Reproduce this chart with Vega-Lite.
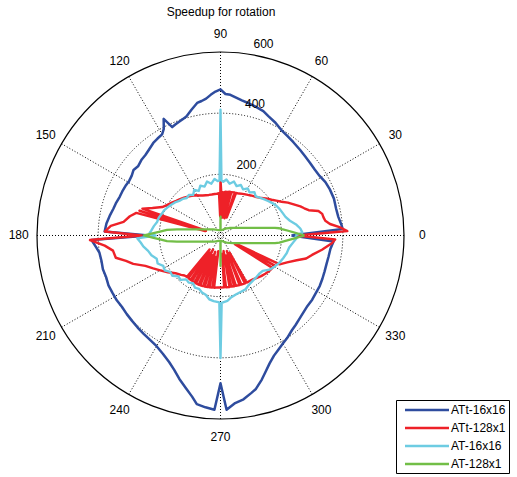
{
"$schema": "https://vega.github.io/schema/vega-lite/v6.json",
"width": 517, "height": 457,
"padding": {"top": 20, "left": 0, "right": 0, "bottom": 0},
"autosize": {"type": "none"},
"title": {"text": "Speedup for rotation", "fontSize": 12, "font": "Liberation Sans", "fontWeight": "normal", "color": "black", "anchor": "middle", "dx": -37.5, "offset": 1},
"config": {"view": {"stroke": null}, "font": "Liberation Sans"},
"datasets": {
"rings": [{"r": 200}, {"r": 400}, {"r": 600}],
"spokes": [{"a": 30}, {"a": 60}, {"a": 90}, {"a": 120}, {"a": 150}, {"a": 180}],
"angles": [{"a": 0}, {"a": 30}, {"a": 60}, {"a": 90}, {"a": 120}, {"a": 150}, {"a": 180}, {"a": 210}, {"a": 240}, {"a": 270}, {"a": 300}, {"a": 330}],
"curves": [
{"s":"ATt-16x16","a":0,"r":232},{"s":"ATt-16x16","a":3,"r":400},{"s":"ATt-16x16","a":5,"r":397},{"s":"ATt-16x16","a":9,"r":390},{"s":"ATt-16x16","a":13,"r":388},{"s":"ATt-16x16","a":18,"r":390},{"s":"ATt-16x16","a":23,"r":388},{"s":"ATt-16x16","a":27,"r":385},{"s":"ATt-16x16","a":31,"r":378},{"s":"ATt-16x16","a":35,"r":376},{"s":"ATt-16x16","a":39,"r":377},{"s":"ATt-16x16","a":43,"r":379},{"s":"ATt-16x16","a":47,"r":382},{"s":"ATt-16x16","a":52,"r":387},{"s":"ATt-16x16","a":56,"r":392},{"s":"ATt-16x16","a":60,"r":398},{"s":"ATt-16x16","a":64,"r":410},{"s":"ATt-16x16","a":68,"r":420},{"s":"ATt-16x16","a":71,"r":430},{"s":"ATt-16x16","a":75,"r":437},{"s":"ATt-16x16","a":78,"r":442},{"s":"ATt-16x16","a":81,"r":447},{"s":"ATt-16x16","a":84,"r":455},{"s":"ATt-16x16","a":86,"r":461},{"s":"ATt-16x16","a":88,"r":463},{"s":"ATt-16x16","a":90,"r":478},{"s":"ATt-16x16","a":92,"r":471},{"s":"ATt-16x16","a":94,"r":461},{"s":"ATt-16x16","a":96,"r":450},{"s":"ATt-16x16","a":98,"r":444},{"s":"ATt-16x16","a":100,"r":440},{"s":"ATt-16x16","a":103,"r":422},{"s":"ATt-16x16","a":106,"r":405},{"s":"ATt-16x16","a":108,"r":400},{"s":"ATt-16x16","a":110,"r":396},{"s":"ATt-16x16","a":112,"r":392},{"s":"ATt-16x16","a":114,"r":388},{"s":"ATt-16x16","a":116,"r":424},{"s":"ATt-16x16","a":118,"r":395},{"s":"ATt-16x16","a":120,"r":382},{"s":"ATt-16x16","a":123,"r":378},{"s":"ATt-16x16","a":126,"r":374},{"s":"ATt-16x16","a":130,"r":365},{"s":"ATt-16x16","a":133,"r":360},{"s":"ATt-16x16","a":136,"r":358},{"s":"ATt-16x16","a":140,"r":352},{"s":"ATt-16x16","a":143,"r":356},{"s":"ATt-16x16","a":146,"r":350},{"s":"ATt-16x16","a":149,"r":348},{"s":"ATt-16x16","a":152,"r":350},{"s":"ATt-16x16","a":156,"r":352},{"s":"ATt-16x16","a":159,"r":353},{"s":"ATt-16x16","a":163,"r":358},{"s":"ATt-16x16","a":166,"r":361},{"s":"ATt-16x16","a":170,"r":368},{"s":"ATt-16x16","a":174,"r":375},{"s":"ATt-16x16","a":178,"r":379},{"s":"ATt-16x16","a":180,"r":235},{"s":"ATt-16x16","a":182,"r":422},{"s":"ATt-16x16","a":185,"r":410},{"s":"ATt-16x16","a":188,"r":400},{"s":"ATt-16x16","a":192,"r":398},{"s":"ATt-16x16","a":196,"r":400},{"s":"ATt-16x16","a":200,"r":398},{"s":"ATt-16x16","a":204,"r":401},{"s":"ATt-16x16","a":208,"r":400},{"s":"ATt-16x16","a":212,"r":400},{"s":"ATt-16x16","a":216,"r":398},{"s":"ATt-16x16","a":220,"r":400},{"s":"ATt-16x16","a":224,"r":402},{"s":"ATt-16x16","a":228,"r":405},{"s":"ATt-16x16","a":232,"r":408},{"s":"ATt-16x16","a":236,"r":412},{"s":"ATt-16x16","a":240,"r":418},{"s":"ATt-16x16","a":244,"r":430},{"s":"ATt-16x16","a":248,"r":447},{"s":"ATt-16x16","a":251,"r":465},{"s":"ATt-16x16","a":254,"r":488},{"s":"ATt-16x16","a":257,"r":510},{"s":"ATt-16x16","a":260,"r":535},{"s":"ATt-16x16","a":262,"r":557},{"s":"ATt-16x16","a":265,"r":564},{"s":"ATt-16x16","a":268,"r":570},{"s":"ATt-16x16","a":270,"r":483},{"s":"ATt-16x16","a":272,"r":570},{"s":"ATt-16x16","a":275,"r":550},{"s":"ATt-16x16","a":278,"r":541},{"s":"ATt-16x16","a":281,"r":525},{"s":"ATt-16x16","a":283,"r":515},{"s":"ATt-16x16","a":286,"r":490},{"s":"ATt-16x16","a":288,"r":472},{"s":"ATt-16x16","a":291,"r":448},{"s":"ATt-16x16","a":294,"r":430},{"s":"ATt-16x16","a":297,"r":418},{"s":"ATt-16x16","a":300,"r":408},{"s":"ATt-16x16","a":303,"r":400},{"s":"ATt-16x16","a":307,"r":388},{"s":"ATt-16x16","a":310,"r":382},{"s":"ATt-16x16","a":313,"r":376},{"s":"ATt-16x16","a":317,"r":370},{"s":"ATt-16x16","a":321,"r":366},{"s":"ATt-16x16","a":325,"r":366},{"s":"ATt-16x16","a":329,"r":364},{"s":"ATt-16x16","a":333,"r":364},{"s":"ATt-16x16","a":337,"r":362},{"s":"ATt-16x16","a":341,"r":360},{"s":"ATt-16x16","a":345,"r":359},{"s":"ATt-16x16","a":349,"r":360},{"s":"ATt-16x16","a":353,"r":362},{"s":"ATt-16x16","a":357,"r":370},{"s":"ATt-16x16","a":360,"r":232},
{"s":"ATt-128x1","a":0,"r":250},{"s":"ATt-128x1","a":2,"r":415},{"s":"ATt-128x1","a":4,"r":390},{"s":"ATt-128x1","a":6,"r":360},{"s":"ATt-128x1","a":8,"r":346},{"s":"ATt-128x1","a":10,"r":342},{"s":"ATt-128x1","a":12,"r":340},{"s":"ATt-128x1","a":14,"r":330},{"s":"ATt-128x1","a":16,"r":300},{"s":"ATt-128x1","a":18,"r":288},{"s":"ATt-128x1","a":20,"r":278},{"s":"ATt-128x1","a":23,"r":260},{"s":"ATt-128x1","a":26,"r":245},{"s":"ATt-128x1","a":29,"r":228},{"s":"ATt-128x1","a":32,"r":215},{"s":"ATt-128x1","a":35,"r":204},{"s":"ATt-128x1","a":38,"r":195},{"s":"ATt-128x1","a":41,"r":186},{"s":"ATt-128x1","a":44,"r":178},{"s":"ATt-128x1","a":47,"r":172},{"s":"ATt-128x1","a":50,"r":168},{"s":"ATt-128x1","a":53,"r":164},{"s":"ATt-128x1","a":56,"r":160},{"s":"ATt-128x1","a":59,"r":157},{"s":"ATt-128x1","a":62,"r":154},{"s":"ATt-128x1","a":66,"r":150},{"s":"ATt-128x1","a":70,"r":148},{"s":"ATt-128x1","a":71,"r":62},{"s":"ATt-128x1","a":72,"r":148},{"s":"ATt-128x1","a":76,"r":146},{"s":"ATt-128x1","a":77,"r":58},{"s":"ATt-128x1","a":78,"r":146},{"s":"ATt-128x1","a":81,"r":144},{"s":"ATt-128x1","a":82,"r":60},{"s":"ATt-128x1","a":83,"r":144},{"s":"ATt-128x1","a":85,"r":142},{"s":"ATt-128x1","a":86,"r":58},{"s":"ATt-128x1","a":87,"r":142},{"s":"ATt-128x1","a":89,"r":140},{"s":"ATt-128x1","a":90,"r":183},{"s":"ATt-128x1","a":91,"r":62},{"s":"ATt-128x1","a":92,"r":138},{"s":"ATt-128x1","a":95,"r":137},{"s":"ATt-128x1","a":98,"r":137},{"s":"ATt-128x1","a":102,"r":137},{"s":"ATt-128x1","a":106,"r":138},{"s":"ATt-128x1","a":110,"r":140},{"s":"ATt-128x1","a":114,"r":143},{"s":"ATt-128x1","a":118,"r":148},{"s":"ATt-128x1","a":122,"r":155},{"s":"ATt-128x1","a":126,"r":160},{"s":"ATt-128x1","a":130,"r":166},{"s":"ATt-128x1","a":134,"r":172},{"s":"ATt-128x1","a":138,"r":178},{"s":"ATt-128x1","a":142,"r":184},{"s":"ATt-128x1","a":146,"r":192},{"s":"ATt-128x1","a":150,"r":200},{"s":"ATt-128x1","a":154,"r":212},{"s":"ATt-128x1","a":158,"r":240},{"s":"ATt-128x1","a":161,"r":270},{"s":"ATt-128x1","a":162,"r":50},{"s":"ATt-128x1","a":163,"r":277},{"s":"ATt-128x1","a":164,"r":52},{"s":"ATt-128x1","a":165,"r":285},{"s":"ATt-128x1","a":168,"r":303},{"s":"ATt-128x1","a":172,"r":320},{"s":"ATt-128x1","a":175,"r":360},{"s":"ATt-128x1","a":178,"r":378},{"s":"ATt-128x1","a":180,"r":258},{"s":"ATt-128x1","a":182,"r":427},{"s":"ATt-128x1","a":185,"r":380},{"s":"ATt-128x1","a":188,"r":355},{"s":"ATt-128x1","a":192,"r":350},{"s":"ATt-128x1","a":195,"r":320},{"s":"ATt-128x1","a":198,"r":300},{"s":"ATt-128x1","a":202,"r":265},{"s":"ATt-128x1","a":206,"r":245},{"s":"ATt-128x1","a":210,"r":228},{"s":"ATt-128x1","a":215,"r":210},{"s":"ATt-128x1","a":220,"r":192},{"s":"ATt-128x1","a":225,"r":182},{"s":"ATt-128x1","a":228,"r":176},{"s":"ATt-128x1","a":231,"r":174},{"s":"ATt-128x1","a":232,"r":58},{"s":"ATt-128x1","a":233,"r":174},{"s":"ATt-128x1","a":236,"r":175},{"s":"ATt-128x1","a":237,"r":66},{"s":"ATt-128x1","a":238,"r":175},{"s":"ATt-128x1","a":241,"r":176},{"s":"ATt-128x1","a":242,"r":52},{"s":"ATt-128x1","a":243,"r":176},{"s":"ATt-128x1","a":246,"r":176},{"s":"ATt-128x1","a":247,"r":70},{"s":"ATt-128x1","a":248,"r":176},{"s":"ATt-128x1","a":251,"r":175},{"s":"ATt-128x1","a":252,"r":56},{"s":"ATt-128x1","a":253,"r":175},{"s":"ATt-128x1","a":256,"r":174},{"s":"ATt-128x1","a":257,"r":72},{"s":"ATt-128x1","a":258,"r":173},{"s":"ATt-128x1","a":261,"r":172},{"s":"ATt-128x1","a":262,"r":52},{"s":"ATt-128x1","a":263,"r":172},{"s":"ATt-128x1","a":267,"r":170},{"s":"ATt-128x1","a":270,"r":170},{"s":"ATt-128x1","a":274,"r":170},{"s":"ATt-128x1","a":275,"r":60},{"s":"ATt-128x1","a":276,"r":170},{"s":"ATt-128x1","a":280,"r":171},{"s":"ATt-128x1","a":281,"r":52},{"s":"ATt-128x1","a":282,"r":171},{"s":"ATt-128x1","a":285,"r":172},{"s":"ATt-128x1","a":286,"r":68},{"s":"ATt-128x1","a":287,"r":172},{"s":"ATt-128x1","a":291,"r":174},{"s":"ATt-128x1","a":292,"r":55},{"s":"ATt-128x1","a":293,"r":174},{"s":"ATt-128x1","a":297,"r":176},{"s":"ATt-128x1","a":298,"r":64},{"s":"ATt-128x1","a":299,"r":176},{"s":"ATt-128x1","a":303,"r":177},{"s":"ATt-128x1","a":307,"r":179},{"s":"ATt-128x1","a":310,"r":182},{"s":"ATt-128x1","a":315,"r":188},{"s":"ATt-128x1","a":320,"r":193},{"s":"ATt-128x1","a":325,"r":198},{"s":"ATt-128x1","a":328,"r":200},{"s":"ATt-128x1","a":329,"r":55},{"s":"ATt-128x1","a":331,"r":203},{"s":"ATt-128x1","a":332,"r":60},{"s":"ATt-128x1","a":334,"r":215},{"s":"ATt-128x1","a":338,"r":235},{"s":"ATt-128x1","a":342,"r":262},{"s":"ATt-128x1","a":345,"r":290},{"s":"ATt-128x1","a":348,"r":306},{"s":"ATt-128x1","a":352,"r":335},{"s":"ATt-128x1","a":356,"r":365},{"s":"ATt-128x1","a":358,"r":375},{"s":"ATt-128x1","a":360,"r":250},
{"s":"AT-16x16","a":0,"r":245},{"s":"AT-16x16","a":2,"r":268},{"s":"AT-16x16","a":5,"r":262},{"s":"AT-16x16","a":8,"r":251},{"s":"AT-16x16","a":12,"r":232},{"s":"AT-16x16","a":16,"r":221},{"s":"AT-16x16","a":20,"r":216},{"s":"AT-16x16","a":24,"r":212},{"s":"AT-16x16","a":28,"r":207},{"s":"AT-16x16","a":32,"r":200},{"s":"AT-16x16","a":36,"r":192},{"s":"AT-16x16","a":40,"r":185},{"s":"AT-16x16","a":44,"r":178},{"s":"AT-16x16","a":48,"r":172},{"s":"AT-16x16","a":52,"r":180},{"s":"AT-16x16","a":56,"r":170},{"s":"AT-16x16","a":60,"r":178},{"s":"AT-16x16","a":64,"r":168},{"s":"AT-16x16","a":68,"r":178},{"s":"AT-16x16","a":72,"r":170},{"s":"AT-16x16","a":76,"r":182},{"s":"AT-16x16","a":80,"r":172},{"s":"AT-16x16","a":84,"r":184},{"s":"AT-16x16","a":87,"r":176},{"s":"AT-16x16","a":89,"r":180},{"s":"AT-16x16","a":90,"r":411},{"s":"AT-16x16","a":91,"r":180},{"s":"AT-16x16","a":93,"r":178},{"s":"AT-16x16","a":96,"r":186},{"s":"AT-16x16","a":100,"r":172},{"s":"AT-16x16","a":104,"r":182},{"s":"AT-16x16","a":108,"r":168},{"s":"AT-16x16","a":112,"r":176},{"s":"AT-16x16","a":116,"r":162},{"s":"AT-16x16","a":120,"r":172},{"s":"AT-16x16","a":124,"r":160},{"s":"AT-16x16","a":128,"r":168},{"s":"AT-16x16","a":132,"r":165},{"s":"AT-16x16","a":136,"r":172},{"s":"AT-16x16","a":140,"r":176},{"s":"AT-16x16","a":144,"r":184},{"s":"AT-16x16","a":148,"r":190},{"s":"AT-16x16","a":152,"r":196},{"s":"AT-16x16","a":156,"r":202},{"s":"AT-16x16","a":160,"r":205},{"s":"AT-16x16","a":164,"r":210},{"s":"AT-16x16","a":168,"r":212},{"s":"AT-16x16","a":172,"r":220},{"s":"AT-16x16","a":176,"r":227},{"s":"AT-16x16","a":178,"r":232},{"s":"AT-16x16","a":180,"r":212},{"s":"AT-16x16","a":182,"r":272},{"s":"AT-16x16","a":185,"r":262},{"s":"AT-16x16","a":188,"r":255},{"s":"AT-16x16","a":192,"r":242},{"s":"AT-16x16","a":196,"r":235},{"s":"AT-16x16","a":200,"r":222},{"s":"AT-16x16","a":204,"r":225},{"s":"AT-16x16","a":208,"r":212},{"s":"AT-16x16","a":212,"r":215},{"s":"AT-16x16","a":216,"r":203},{"s":"AT-16x16","a":220,"r":205},{"s":"AT-16x16","a":224,"r":192},{"s":"AT-16x16","a":228,"r":195},{"s":"AT-16x16","a":232,"r":182},{"s":"AT-16x16","a":236,"r":186},{"s":"AT-16x16","a":240,"r":180},{"s":"AT-16x16","a":244,"r":190},{"s":"AT-16x16","a":248,"r":188},{"s":"AT-16x16","a":252,"r":196},{"s":"AT-16x16","a":256,"r":200},{"s":"AT-16x16","a":260,"r":212},{"s":"AT-16x16","a":264,"r":216},{"s":"AT-16x16","a":269,"r":219},{"s":"AT-16x16","a":270,"r":401},{"s":"AT-16x16","a":271,"r":220},{"s":"AT-16x16","a":276,"r":215},{"s":"AT-16x16","a":280,"r":205},{"s":"AT-16x16","a":285,"r":199},{"s":"AT-16x16","a":290,"r":196},{"s":"AT-16x16","a":295,"r":194},{"s":"AT-16x16","a":300,"r":186},{"s":"AT-16x16","a":305,"r":182},{"s":"AT-16x16","a":310,"r":180},{"s":"AT-16x16","a":315,"r":178},{"s":"AT-16x16","a":320,"r":180},{"s":"AT-16x16","a":325,"r":195},{"s":"AT-16x16","a":330,"r":204},{"s":"AT-16x16","a":335,"r":212},{"s":"AT-16x16","a":340,"r":218},{"s":"AT-16x16","a":345,"r":224},{"s":"AT-16x16","a":350,"r":228},{"s":"AT-16x16","a":355,"r":240},{"s":"AT-16x16","a":358,"r":249},{"s":"AT-16x16","a":360,"r":245},
{"s":"AT-128x1","a":0,"r":275},{"s":"AT-128x1","a":2,"r":245},{"s":"AT-128x1","a":4,"r":222},{"s":"AT-128x1","a":6,"r":202},{"s":"AT-128x1","a":7,"r":194},{"s":"AT-128x1","a":8,"r":180},{"s":"AT-128x1","a":10,"r":144},{"s":"AT-128x1","a":12,"r":120},{"s":"AT-128x1","a":15,"r":97},{"s":"AT-128x1","a":20,"r":73},{"s":"AT-128x1","a":25,"r":59},{"s":"AT-128x1","a":30,"r":50},{"s":"AT-128x1","a":40,"r":38},{"s":"AT-128x1","a":50,"r":30},{"s":"AT-128x1","a":60,"r":24},{"s":"AT-128x1","a":70,"r":20},{"s":"AT-128x1","a":80,"r":18},{"s":"AT-128x1","a":89,"r":18},{"s":"AT-128x1","a":90,"r":62},{"s":"AT-128x1","a":91,"r":18},{"s":"AT-128x1","a":100,"r":18},{"s":"AT-128x1","a":110,"r":19},{"s":"AT-128x1","a":120,"r":21},{"s":"AT-128x1","a":130,"r":25},{"s":"AT-128x1","a":140,"r":31},{"s":"AT-128x1","a":150,"r":40},{"s":"AT-128x1","a":160,"r":58},{"s":"AT-128x1","a":165,"r":77},{"s":"AT-128x1","a":170,"r":115},{"s":"AT-128x1","a":172,"r":144},{"s":"AT-128x1","a":174,"r":176},{"s":"AT-128x1","a":176,"r":195},{"s":"AT-128x1","a":178,"r":219},{"s":"AT-128x1","a":180,"r":250},{"s":"AT-128x1","a":182,"r":219},{"s":"AT-128x1","a":184,"r":195},{"s":"AT-128x1","a":186,"r":176},{"s":"AT-128x1","a":188,"r":144},{"s":"AT-128x1","a":190,"r":115},{"s":"AT-128x1","a":195,"r":77},{"s":"AT-128x1","a":200,"r":58},{"s":"AT-128x1","a":210,"r":40},{"s":"AT-128x1","a":220,"r":31},{"s":"AT-128x1","a":230,"r":25},{"s":"AT-128x1","a":240,"r":21},{"s":"AT-128x1","a":250,"r":19},{"s":"AT-128x1","a":260,"r":18},{"s":"AT-128x1","a":269,"r":18},{"s":"AT-128x1","a":270,"r":100},{"s":"AT-128x1","a":271,"r":18},{"s":"AT-128x1","a":280,"r":18},{"s":"AT-128x1","a":290,"r":20},{"s":"AT-128x1","a":300,"r":24},{"s":"AT-128x1","a":310,"r":30},{"s":"AT-128x1","a":320,"r":38},{"s":"AT-128x1","a":330,"r":50},{"s":"AT-128x1","a":335,"r":59},{"s":"AT-128x1","a":340,"r":73},{"s":"AT-128x1","a":345,"r":97},{"s":"AT-128x1","a":348,"r":120},{"s":"AT-128x1","a":350,"r":144},{"s":"AT-128x1","a":352,"r":180},{"s":"AT-128x1","a":353,"r":194},{"s":"AT-128x1","a":354,"r":202},{"s":"AT-128x1","a":356,"r":222},{"s":"AT-128x1","a":358,"r":245},{"s":"AT-128x1","a":360,"r":275}
]
},
"encoding": {
"x": {"field": "x", "type": "quantitative", "scale": {"domain": [-721, 969.5], "nice": false, "zero": false}, "axis": null},
"y": {"field": "y", "type": "quantitative", "scale": {"domain": [-789.7, 704.6], "nice": false, "zero": false}, "axis": null}
},
"layer": [
{"data": {"name": "rings"}, "transform": [{"filter": "datum.r < 600"}, {"calculate": "0", "as": "x"}, {"calculate": "0", "as": "y"}],
 "mark": {"type": "point", "filled": false, "stroke": "black", "strokeWidth": 1, "strokeDash": [1, 2], "opacity": 1},
 "encoding": {"size": {"field": "r", "type": "quantitative", "scale": {"type": "pow", "exponent": 2, "domain": [0, 600], "range": [0, 134689]}, "legend": null}}},
{"data": {"name": "spokes"}, "transform": [{"calculate": "600*cos(datum.a*PI/180)", "as": "x"}, {"calculate": "600*sin(datum.a*PI/180)", "as": "y"}, {"calculate": "-datum.x", "as": "x2"}, {"calculate": "-datum.y", "as": "y2"}],
 "mark": {"type": "rule", "color": "black", "strokeDash": [1, 2], "strokeWidth": 1},
 "encoding": {"x2": {"field": "x2"}, "y2": {"field": "y2"}}},
{"data": {"name": "rings"}, "transform": [{"filter": "datum.r == 600"}, {"calculate": "0", "as": "x"}, {"calculate": "0", "as": "y"}],
 "mark": {"type": "point", "filled": false, "stroke": "black", "strokeWidth": 1.2, "opacity": 1},
 "encoding": {"size": {"field": "r", "type": "quantitative", "scale": {"type": "pow", "exponent": 2, "domain": [0, 600], "range": [0, 134689]}, "legend": null}}},
{"data": {"name": "curves"}, "transform": [{"calculate": "datum.r*cos(datum.a*PI/180)", "as": "x"}, {"calculate": "datum.r*sin(datum.a*PI/180)", "as": "y"}],
 "mark": {"type": "line", "strokeJoin": "round"},
 "encoding": {
  "color": {"field": "s", "type": "nominal", "scale": {"domain": ["ATt-16x16", "ATt-128x1", "AT-16x16", "AT-128x1"], "range": ["#2E4C9E", "#EE2128", "#6DCCE2", "#72BE47"]},
   "legend": {"title": null, "orient": "none", "legendX": 396, "legendY": 380, "symbolType": "M-4,0H4", "symbolSize": 121, "symbolOffset": 21, "labelOffset": 17, "rowPadding": 5, "padding": 3, "strokeColor": "black", "fillColor": "white", "labelFontSize": 12, "labelFont": "Liberation Sans", "labelColor": "black", "cornerRadius": 0}},
  "strokeWidth": {"field": "s", "type": "nominal", "scale": {"domain": ["ATt-16x16", "ATt-128x1", "AT-16x16", "AT-128x1"], "range": [2.5, 2.3, 1.1, 1]},
   "legend": {"title": null, "orient": "none", "legendX": 396, "legendY": 380, "symbolType": "M-4,0H4", "symbolSize": 121, "symbolOffset": 21, "labelOffset": 17, "rowPadding": 5, "padding": 3, "strokeColor": "black", "fillColor": "white", "labelFontSize": 12, "labelFont": "Liberation Sans", "labelColor": "black", "cornerRadius": 0}},
  "order": {"field": "a", "type": "quantitative"}
 }},
{"data": {"name": "angles"}, "transform": [{"calculate": "660*cos(datum.a*PI/180)", "as": "x"}, {"calculate": "660*sin(datum.a*PI/180)", "as": "y"}],
 "mark": {"type": "text", "fontSize": 12, "font": "Liberation Sans", "align": "center", "baseline": "middle", "color": "black"},
 "encoding": {"text": {"field": "a", "type": "nominal"}}},
{"data": {"name": "rings"}, "transform": [{"calculate": "(datum.r+10)*cos(82*PI/180)", "as": "x"}, {"calculate": "(datum.r+10)*sin(82*PI/180)", "as": "y"}],
 "mark": {"type": "text", "fontSize": 12, "font": "Liberation Sans", "align": "left", "baseline": "bottom", "dx": 7, "color": "black"},
 "encoding": {"text": {"field": "r", "type": "nominal"}}}
]
}
